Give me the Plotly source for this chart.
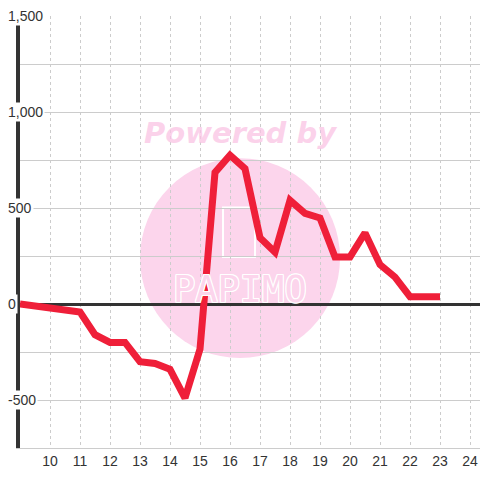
import plotly.graph_objects as go

x_values = [9, 9.5, 10, 10.5, 11, 11.5, 12, 12.5, 13, 13.5, 14, 14.5, 15, 15.5, 16, 16.5,
            17, 17.5, 18, 18.5, 19, 19.5, 20, 20.5, 21, 21.5, 22, 22.5, 23]
y_values = [0, -10, -20, -30, -42, -160, -200, -200, -300, -310, -340, -490, -235, 685, 775, 705,
            345, 270, 540, 472, 448, 245, 245, 370, 205, 140, 38, 38, 38]
y_label_values = [-500, 0, 500, 1000, 1500]
y_label_texts = ["-500", "0", "500", "1,000", "1,500"]
x_tick_values = list(range(10, 25))

fig = go.Figure()
fig.add_trace(go.Scatter(
    x=x_values, y=y_values, mode="lines",
    line=dict(color="#ef1f39", width=7),
    hoverinfo="skip", showlegend=False,
))

annotations = []
for v, t in zip(y_label_values, y_label_texts):
    annotations.append(dict(
        x=0, xref="paper", y=v, yref="y", text=t, showarrow=False,
        xanchor="left", yanchor="middle", xshift=-14,
        font=dict(family="Liberation Sans, Arial", size=14, color="#333333"),
        bgcolor="#ffffff", borderpad=1,
    ))
annotations.append(dict(
    x=0.4783, xref="paper", y=0.729, yref="paper", text="Powered by",
    showarrow=False, xanchor="center", yanchor="middle",
    font=dict(family="DejaVu Sans, Liberation Sans", size=29, color="rgba(250,195,228,0.75)",
              weight="bold", style="italic"),
))
annotations.append(dict(
    x=0.4783, xref="paper", y=0.366, yref="paper", text="PAPIMO",
    showarrow=False, xanchor="center", yanchor="middle",
    font=dict(family="DejaVu Sans Mono", size=37, color="#fcd5ec",
              shadow="1px 0 0 #fff, -1px 0 0 #fff, 0 1px 0 #fff, 0 -1px 0 #fff, 1px 1px 0 #fff, -1px -1px 0 #fff, 1px -1px 0 #fff, -1px 1px 0 #fff"),
))

shapes = [
    dict(type="circle", xref="paper", yref="paper",
         x0=0.2609, x1=0.6957, y0=0.2083, y1=0.671,
         fillcolor="#fcd5ec", line=dict(width=0), layer="below"),
    dict(type="rect", xref="paper", yref="paper",
         x0=0.4413, x1=0.5109, y0=0.442, y1=0.557,
         line=dict(color="#ffffff", width=2), layer="below"),
]

fig.update_layout(
    width=480, height=480,
    margin=dict(l=20, r=0, t=16, b=32),
    paper_bgcolor="#ffffff", plot_bgcolor="#ffffff",
    annotations=annotations, shapes=shapes,
    xaxis=dict(
        range=[9, 24.333], tickvals=x_tick_values, showgrid=True,
        gridcolor="#cccccc", gridwidth=1, griddash="3px,3px",
        showline=True, linecolor="#cccccc", linewidth=1,
        zeroline=False, ticks="",
        tickfont=dict(family="Liberation Sans, Arial", size=14, color="#333333"),
    ),
    yaxis=dict(
        range=[-750, 1500], dtick=250, showgrid=True,
        gridcolor="#cccccc", gridwidth=1,
        showticklabels=False, ticks="",
        zeroline=True, zerolinecolor="#333333", zerolinewidth=3,
        showline=True, linecolor="#333333", linewidth=4,
    ),
)

fig.write_html("out.html", config={"displayModeBar": False},
               post_script="document.body.style.margin='0';document.body.style.overflow='hidden';")
